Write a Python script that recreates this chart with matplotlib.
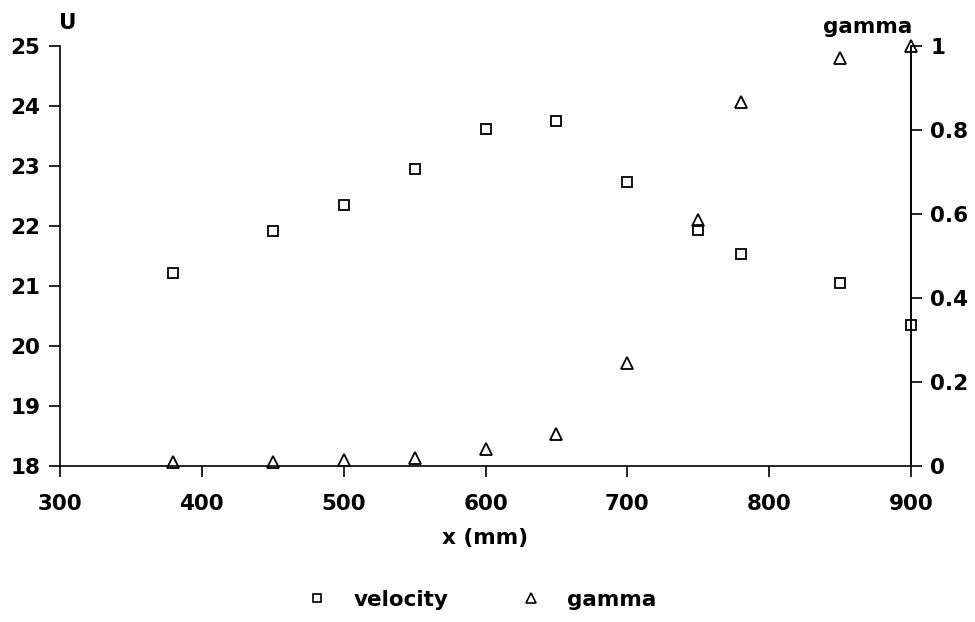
import matplotlib
matplotlib.use("Agg")
import matplotlib.pyplot as plt
from matplotlib.lines import Line2D

# dane pomiarowe
x_mm = [380, 450, 500, 550, 600, 650, 700, 750, 780, 850, 900]
velocity = [21.21, 21.92, 22.35, 22.94, 23.61, 23.75, 22.73, 21.93, 21.53, 21.05, 20.34]
gamma = [0.01, 0.01, 0.015, 0.02, 0.04, 0.076, 0.245, 0.585, 0.865, 0.97, 1.0]

x_ticks = [300, 400, 500, 600, 700, 800, 900]
u_ticks = [18, 19, 20, 21, 22, 23, 24, 25]
g_ticks = [0, 0.2, 0.4, 0.6, 0.8, 1.0]
g_labels = ["0", "0.2", "0.4", "0.6", "0.8", "1"]

plt.rcParams['font.family'] = ['DejaVu Sans']
plt.rcParams['font.weight'] = 'bold'
fs = 15.5

fig = plt.figure(figsize=(9.75, 6.22), dpi=100)
ax1 = fig.add_axes([0.0615, 0.2508, 0.8729, 0.6759])
ax2 = ax1.twinx()

ax1.plot(x_mm, velocity, linestyle='none', marker='s', markersize=7,
         markerfacecolor='none', markeredgecolor='black', markeredgewidth=1.3, clip_on=False)
ax2.plot(x_mm, gamma, linestyle='none', marker='^', markersize=8,
         markerfacecolor='none', markeredgecolor='black', markeredgewidth=1.3, clip_on=False)

ax1.set_xlim(300, 900)
ax1.set_ylim(18, 25)
ax2.set_ylim(0, 1)

ax1.set_xticks(x_ticks)
ax1.set_yticks(u_ticks)
ax2.set_yticks(g_ticks)
ax2.set_yticklabels(g_labels)

for ax in (ax1, ax2):
    ax.spines['top'].set_visible(False)
    for s in ax.spines.values():
        s.set_linewidth(1.2)
    ax.tick_params(labelsize=fs, width=1.2, length=8, direction='out', pad=6)

ax1.tick_params(axis='x', pad=12)
ax2.spines['left'].set_visible(False)
ax2.spines['bottom'].set_visible(False)

# opisy osi
fig.text(59 / 975, 1 - 13 / 622, "U", fontsize=fs, fontweight='bold', ha='left', va='top')
fig.text(912 / 975, 1 - 17 / 622, "gamma", fontsize=fs, fontweight='bold', ha='right', va='top')
ax1.set_xlabel("x (mm)", fontsize=fs, fontweight='bold', labelpad=10)

# legenda
handles = [
    Line2D([], [], linestyle='none', marker='s', markersize=6, markerfacecolor='none',
           markeredgecolor='black', markeredgewidth=1.2, label='velocity'),
    Line2D([], [], linestyle='none', marker='^', markersize=7, markerfacecolor='none',
           markeredgecolor='black', markeredgewidth=1.2, label='gamma'),
]
fig.legend(handles=handles, loc='center', bbox_to_anchor=(0.494, 0.036), ncol=2,
           frameon=False, fontsize=fs, handlelength=1.0, handletextpad=1.2,
           columnspacing=3.3)

fig.savefig("out.png", dpi=100)
